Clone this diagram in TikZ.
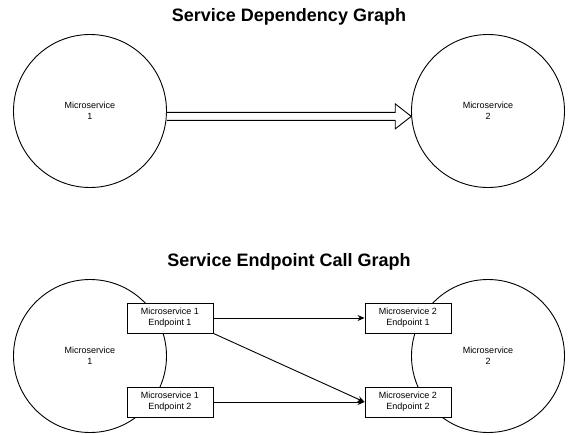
\documentclass[tikz,border=0pt]{standalone}
\usepackage{fontspec}
\setmainfont{Liberation Sans}
\usetikzlibrary{arrows.meta,calc}
\tikzset{
	call graph/.style={
		x=1pt, y=-1pt,
		line width=.9pt,
		every node/.style={font=\fontsize{9}{10.8}\selectfont, align=center}
		},
	graph title/.style={font=\fontsize{18}{21.6}\selectfont\bfseries, anchor=base, inner sep=0pt},
	service/.style={draw, circle, minimum size=153pt, inner sep=0pt},
	endpoint/.style={draw, fill=white, minimum width=86pt, minimum height=30pt, inner sep=0pt},
	call/.style={-{Stealth[length=7pt,width=6pt]}}
}

\begin{document}
\begin{tikzpicture}[call graph]
	\useasboundingbox (0,0) rectangle (570,434);
	% service dependency graph
	\node[graph title] (dep title) at (289,21) {Service Dependency Graph};
	\node[service] (dep1) at (90,111) {Microservice\\1};
	\node[service] (dep2) at (488,111) {Microservice\\2};
	\draw[fill=white] let \p1=(dep1.-4.5), \p2=(dep2.184.5) in
		(\x1,\y1+4) -- (\x2-16,\y1+4) -- (\x2-16,\y1+12.5) -- (\x2,\y1)
		-- (\x2-16,\y1-12.5) -- (\x2-16,\y1-4) -- (\x1,\y1-4);
	% service endpoint call graph
	\node[graph title] (call title) at (289,266) {Service Endpoint Call Graph};
	\node[service] (ms1) at (90,356) {Microservice\\1};
	\node[service] (ms2) at (488,356) {Microservice\\2};
	\node[endpoint] (ms1ep1) at (170,318) {Microservice 1\\Endpoint 1};
	\node[endpoint] (ms1ep2) at (170,402) {Microservice 1\\Endpoint 2};
	\node[endpoint] (ms2ep1) at (408,318) {Microservice 2\\Endpoint 1};
	\node[endpoint] (ms2ep2) at (408,402) {Microservice 2\\Endpoint 2};
	\draw[call] (ms1ep1) -- (ms2ep1);
	\draw[call] (ms1ep1.south east) -- (ms2ep2.west);
	\draw[call] (ms1ep2) -- (ms2ep2);
\end{tikzpicture}
\end{document}
